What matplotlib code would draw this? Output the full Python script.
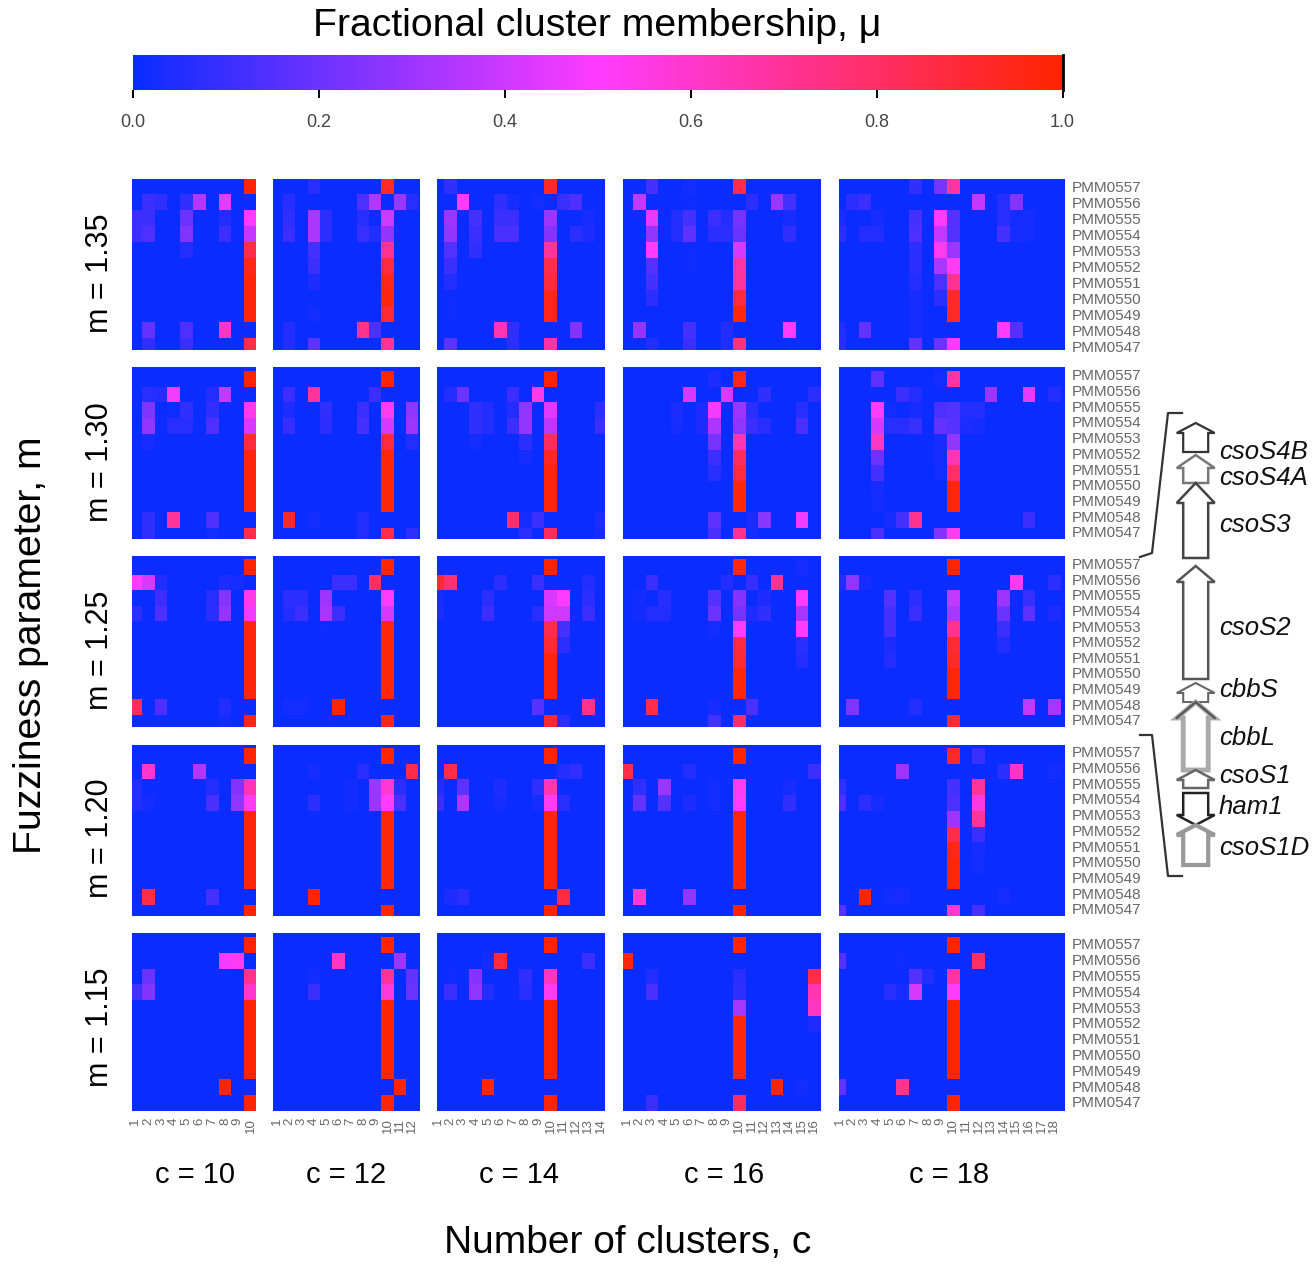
import numpy as np
import matplotlib
matplotlib.use("Agg")
import matplotlib.pyplot as plt
from matplotlib.colors import LinearSegmentedColormap
from matplotlib.patches import Polygon

plt.rcParams['font.family'] = ['Liberation Sans', 'DejaVu Sans']

W, H = 1316, 1265
genes_rows = ['PMM0557','PMM0556','PMM0555','PMM0554','PMM0553','PMM0552','PMM0551','PMM0550','PMM0549','PMM0548','PMM0547']
m_labels = ['m = 1.35','m = 1.30','m = 1.25','m = 1.20','m = 1.15']
c_values = [10,12,14,16,18]
cbar_ticks = [0.0,0.2,0.4,0.6,0.8,1.0]

# --- values: {cluster column: [membership of the 11 genes, top to bottom]}
m135_c10 = {0:[0,0,.1,.1,0,0,0,0,0,0,0], 1:[0,.1,.1,.14,0,0,0,0,0,.18,.08], 2:[0,.08,0,0,0,0,0,0,0,0,0],
            4:[0,.08,.2,.24,.05,0,0,0,0,.14,.1], 5:[0,.35,0,0,0,0,0,0,0,0,0], 7:[0,.45,.05,.1,0,0,0,0,0,.62,0],
            9:[1,0,.5,.38,.85,.95,.98,.98,.98,0,.85]}
m135_c12 = {1:[0,.06,.08,.1,0,0,0,0,0,.05,.05], 3:[.06,0,.33,.33,.12,.1,.04,0,.02,0,.17], 4:[0,0,.07,.07,0,0,0,0,0,0,0],
            7:[0,.14,.06,.09,0,0,0,0,0,.72,0], 8:[0,.34,0,.05,0,0,0,0,0,.14,0],
            9:[.92,0,.4,.28,.72,.88,.95,.97,.9,0,.7], 10:[0,.3,0,0,0,0,0,0,0,0,0], 11:[0,.06,0,0,0,0,0,0,0,0,0]}
m135_c14 = {1:[.08,0,.3,.28,.15,.1,.05,.01,.01,0,.17], 2:[0,.5,0,0,0,0,0,0,0,0,0], 3:[0,0,.12,.1,.08,0,0,0,0,0,0],
            5:[0,.08,.1,.13,0,0,0,0,0,.65,0], 6:[0,.03,.1,.13,0,0,0,0,0,.08,.07], 8:[0,.02,0,0,0,0,0,0,0,0,0],
            9:[.92,0,.3,.25,.7,.85,.88,.95,.95,0,.68], 10:[0,.1,0,0,0,0,0,0,0,0,0], 11:[0,.14,0,.07,0,0,0,0,0,.25,0],
            12:[0,0,.03,.04,0,0,0,0,0,0,0]}
m135_c16 = {1:[0,.38,0,0,0,0,0,0,0,.28,0], 2:[.12,0,.45,.28,.5,.15,.12,.07,0,0,.05], 4:[0,0,.05,.05,0,0,0,0,0,0,0],
            5:[.02,.01,.12,.17,.01,.01,0,0,0,.12,.1], 7:[0,0,.1,.07,0,0,0,0,0,0,0], 8:[0,0,.05,.07,0,0,0,0,0,.05,.05],
            9:[.85,0,.22,.2,.42,.68,.7,.88,.97,0,.75], 10:[0,.07,0,0,0,0,0,0,0,0,0], 12:[0,.3,0,0,0,0,0,0,0,0,0],
            13:[0,.12,.03,.08,0,0,0,0,0,.5,0]}
m135_c18 = {0:[0,0,.04,.07,0,0,0,0,0,.05,.06], 1:[0,.07,0,0,0,0,0,0,0,0,0], 2:[0,.1,0,.05,0,0,0,0,0,.18,0],
            3:[0,0,.03,.05,0,0,0,0,0,0,0], 6:[.08,0,.12,.14,.07,.07,.05,.03,.03,.03,.18],
            8:[.22,0,.5,.38,.53,.33,.14,.07,0,0,.2], 9:[.68,0,.15,.15,.3,.52,.72,.92,.92,0,.5],
            11:[0,.38,0,0,0,0,0,0,0,0,0], 13:[0,.06,.06,.12,0,0,0,0,0,.5,0], 14:[0,.25,.02,.03,0,0,0,0,0,.15,0],
            15:[0,0,.03,.02,0,0,0,0,0,0,0]}

m130_c10 = {1:[0,.06,.24,.28,.03,0,0,0,0,.08,.08], 2:[0,.05,0,0,0,0,0,0,0,0,0], 3:[0,.48,.01,.06,0,0,0,0,0,.7,0],
            4:[0,0,.08,.06,0,0,0,0,0,0,0], 6:[0,.05,.08,.14,0,0,0,0,0,.14,.02], 7:[0,.38,0,0,0,0,0,0,0,0,0],
            9:[1,0,.55,.42,.88,.97,.98,.98,.98,0,.85]}
m130_c12 = {1:[0,.1,.04,.09,0,0,0,0,0,.92,0], 3:[0,.7,0,0,0,0,0,0,0,.02,0], 4:[0,0,.08,.07,0,0,0,0,0,0,0],
            7:[0,0,.1,.12,0,0,0,0,0,.05,.05], 8:[0,.1,0,0,0,0,0,0,0,0,0], 9:[1,0,.52,.42,.88,.98,.98,.98,.98,0,.85],
            11:[0,0,.28,.3,.05,0,0,0,0,0,.08]}
m130_c14 = {1:[0,.05,0,0,0,0,0,0,0,0,0], 2:[0,.2,0,0,0,0,0,0,0,0,0], 3:[0,0,.08,.08,.02,0,0,0,0,0,0],
            4:[0,0,.05,.05,0,0,0,0,0,0,0], 6:[0,.1,.05,.1,0,0,0,0,0,.8,0], 7:[0,0,.28,.28,.07,.03,0,0,0,.03,.07],
            8:[0,.55,0,0,0,0,0,0,0,.1,0], 9:[1,0,.43,.36,.82,.93,.98,.98,.98,0,.82], 13:[0,0,.07,.1,0,0,0,0,0,.04,.03]}
m130_c16 = {4:[0,0,.04,.03,0,0,0,0,0,0,0], 5:[0,.42,0,0,0,0,0,0,0,0,0], 6:[0,0,.04,.04,0,0,0,0,0,0,0],
            7:[.04,0,.47,.33,.22,.1,.06,0,0,.17,.13], 8:[0,.42,0,0,0,0,0,0,0,0,0],
            9:[.95,0,.3,.27,.65,.82,.88,.98,.98,0,.72], 10:[0,0,.07,.1,0,0,0,0,0,.04,.03],
            11:[0,.08,0,.06,0,0,0,0,0,.26,0], 14:[0,0,.06,.13,0,0,0,0,0,.47,0], 15:[0,.07,0,0,0,0,0,0,0,0,0]}
m130_c18 = {3:[.17,0,.5,.42,.62,.2,.12,.03,.02,0,.13], 4:[0,0,.02,.06,0,0,0,0,0,.03,0], 5:[0,.1,0,.06,0,0,0,0,0,.12,0],
            6:[0,.05,.03,.09,0,0,0,0,0,.72,0], 8:[.03,0,.14,.18,.03,.03,.02,0,0,0,.25],
            9:[.68,0,.15,.16,.28,.65,.8,.97,.97,0,.52], 10:[0,0,.05,.04,0,0,0,0,0,0,0], 11:[0,0,.05,.03,0,0,0,0,0,0,0],
            12:[0,.3,0,0,0,0,0,0,0,0,0], 15:[0,.45,0,0,0,0,0,0,0,.1,0], 17:[0,.05,0,0,0,0,0,0,0,0,0]}

m125_c10 = {0:[0,.5,0,.07,0,0,0,0,0,.82,0], 1:[0,.42,0,0,0,0,0,0,0,0,0], 2:[0,.05,.1,.14,0,0,0,0,0,.14,.01],
            6:[0,0,.06,.07,0,0,0,0,0,0,0], 7:[0,.04,.25,.28,0,0,0,0,0,.05,.02], 8:[0,.03,0,0,0,0,0,0,0,0,0],
            9:[1,0,.55,.47,.97,.98,.98,.98,.98,0,.95]}
m125_c12 = {1:[0,0,.07,.05,0,0,0,0,0,.02,0], 2:[0,0,.07,.1,0,0,0,0,0,.02,0], 4:[0,0,.3,.32,.01,0,0,0,0,0,.01],
            5:[0,.1,0,.1,0,0,0,0,0,1,0], 6:[0,.1,0,0,0,0,0,0,0,0,0], 8:[0,.8,0,0,0,0,0,0,0,0,0],
            9:[1,0,.5,.42,.97,.98,.98,.98,.98,0,.95]}
m125_c14 = {0:[0,.9,.03,.04,0,0,0,0,0,0,0], 1:[0,.78,0,0,0,0,0,0,0,0,0], 4:[0,0,.07,.1,0,0,0,0,0,0,0],
            5:[0,.07,0,0,0,0,0,0,0,0,0], 8:[0,.1,0,.06,0,0,0,0,0,.16,0], 9:[1,0,.42,.4,.85,.9,.98,.98,.98,0,.9],
            10:[0,0,.5,.4,.12,.07,0,0,0,0,.07], 12:[0,.05,.07,.1,0,0,0,0,0,.72,0]}
m125_c16 = {1:[0,0,.02,.02,0,0,0,0,0,0,0], 2:[0,.1,0,.05,0,0,0,0,0,.85,0], 3:[0,0,.06,.05,0,0,0,0,0,0,0],
            7:[0,0,.15,.2,.02,0,0,0,0,.03,.12], 8:[0,.05,0,0,0,0,0,0,0,0,0], 9:[.97,0,.25,.22,.5,.88,.9,.98,.98,0,.8],
            10:[0,.09,0,.04,0,0,0,0,0,.13,0], 11:[0,0,.04,.08,0,0,0,0,0,0,0], 12:[0,.72,0,0,0,0,0,0,0,0,0],
            14:[.03,0,.5,.32,.5,.07,.05,0,0,0,0]}
m125_c18 = {0:[0,.05,0,0,0,0,0,0,0,0,0], 1:[0,.27,0,0,0,0,0,0,0,.24,0], 2:[0,.03,0,0,0,0,0,0,0,0,0],
            4:[0,0,.15,.12,.12,.04,.05,0,0,0,0], 6:[0,0,.07,.1,0,0,0,0,0,.05,0],
            9:[1,0,.38,.33,.72,.9,.92,.98,.98,0,.9], 13:[0,0,.3,.2,.1,.05,0,0,0,0,0], 14:[0,.52,0,0,0,0,0,0,0,0,0],
            15:[0,0,.09,.17,0,0,0,0,0,.38,0], 17:[0,.07,0,.04,0,0,0,0,0,.32,0]}

m120_c10 = {0:[0,0,.05,.05,0,0,0,0,0,0,0], 1:[0,.6,0,.03,0,0,0,0,0,.85,0], 5:[0,.34,0,0,0,0,0,0,0,0,0],
            6:[0,0,.05,.13,0,0,0,0,0,.12,0], 8:[0,0,.25,.28,0,0,0,0,0,0,0], 9:[1,0,.65,.52,.98,.98,.98,.98,.98,0,1]}
m120_c12 = {3:[0,.03,0,.07,0,0,0,0,0,1,0], 6:[0,0,.02,.02,0,0,0,0,0,0,0], 7:[0,.06,0,0,0,0,0,0,0,0,0],
            8:[0,0,.3,.3,0,0,0,0,0,0,0], 9:[1,0,.58,.5,.98,.98,.98,.98,.98,0,.98], 10:[0,0,.07,.13,0,0,0,0,0,0,0],
            11:[0,.85,0,0,0,0,0,0,0,0,0]}
m120_c14 = {0:[0,0,.05,.1,0,0,0,0,0,0,0], 1:[0,.85,0,0,0,0,0,0,0,.04,0], 2:[0,0,.17,.33,0,0,0,0,0,.07,0],
            5:[0,0,.04,.03,0,0,0,0,0,0,0], 8:[0,0,.08,.03,0,0,0,0,0,0,0], 9:[1,0,.65,.52,.98,.98,.98,.98,.98,0,1],
            10:[0,.05,0,.06,0,0,0,0,0,.87,0], 11:[0,.08,0,0,0,0,0,0,0,0,0]}
m120_c16 = {0:[0,.85,0,0,0,0,0,0,0,0,0], 1:[0,0,.08,.18,0,0,0,0,0,.58,0], 3:[0,0,.3,.15,0,0,0,0,0,0,0],
            5:[0,.05,0,.04,0,0,0,0,0,.28,0], 7:[0,0,.02,.02,0,0,0,0,0,0,0], 9:[1,0,.52,.5,.98,.98,.98,.98,.98,0,1],
            13:[0,0,.03,.08,0,0,0,0,0,0,0], 15:[0,.1,0,0,0,0,0,0,0,0,0]}
m120_c18 = {0:[0,0,.08,.14,0,0,0,0,0,0,.16], 2:[0,0,0,.07,0,0,0,0,0,1,0], 3:[0,0,0,.03,0,0,0,0,0,0,0],
            4:[0,0,0,0,0,0,0,0,0,.02,0], 5:[0,.3,0,0,0,0,0,0,0,.03,0],
            9:[.92,0,.12,.14,.3,.85,.95,.98,.98,0,.6], 11:[.1,0,.7,.57,.7,.1,.03,.02,0,0,.13],
            13:[0,.07,0,0,0,0,0,0,0,.03,0], 14:[0,.62,0,0,0,0,0,0,0,0,0], 17:[0,.02,0,0,0,0,0,0,0,0,0]}

m115_c10 = {0:[0,0,0,.12,0,0,0,0,0,0,0], 1:[0,0,.2,.25,0,0,0,0,0,0,0], 7:[0,.48,0,0,0,0,0,0,0,1,0],
            8:[0,.52,0,0,0,0,0,0,0,0,0], 9:[1,0,.72,.6,1,1,1,1,1,0,1]}
m115_c12 = {3:[0,0,.02,.1,0,0,0,0,0,0,0], 5:[0,.62,0,0,0,0,0,0,0,0,0], 9:[1,0,.7,.57,1,1,1,1,1,0,1],
            10:[0,.3,0,0,0,0,0,0,0,1,0], 11:[0,0,.18,.2,0,0,0,0,0,0,0]}
m115_c14 = {1:[0,0,.01,.1,0,0,0,0,0,0,0], 3:[0,0,.25,.27,0,0,0,0,0,0,0], 4:[0,.02,0,.05,0,0,0,0,0,1,0],
            5:[0,.88,0,0,0,0,0,0,0,0,0], 7:[0,0,.08,.06,0,0,0,0,0,0,0], 9:[1,0,.62,.52,1,1,1,1,1,0,1],
            12:[0,.1,0,0,0,0,0,0,0,0,0]}
m115_c16 = {0:[0,.97,0,0,0,0,0,0,0,0,0], 2:[0,0,.05,.13,0,0,0,0,0,0,.1], 9:[1,0,.07,.08,.32,.97,.97,.97,.97,0,.82],
            12:[0,0,0,0,0,0,0,0,0,1,0], 14:[0,0,0,0,0,0,0,0,0,.02,0], 15:[0,0,.85,.65,.62,.04,0,0,0,0,0]}
m115_c18 = {0:[0,.15,0,0,0,0,0,0,0,.18,0], 4:[0,0,0,.06,0,0,0,0,0,0,0], 5:[0,.01,0,.03,0,0,0,0,0,.72,0],
            6:[0,0,.15,.42,0,0,0,0,0,0,0], 7:[0,0,.05,0,0,0,0,0,0,0,0], 9:[1,0,.68,.5,1,1,1,1,1,0,1],
            11:[0,.8,0,0,0,0,0,0,0,0,0]}

panels = [[m135_c10,m135_c12,m135_c14,m135_c16,m135_c18],
          [m130_c10,m130_c12,m130_c14,m130_c16,m130_c18],
          [m125_c10,m125_c12,m125_c14,m125_c16,m125_c18],
          [m120_c10,m120_c12,m120_c14,m120_c16,m120_c18],
          [m115_c10,m115_c12,m115_c14,m115_c16,m115_c18]]

# gene-map annotation
gene_names = ['csoS4B','csoS4A','csoS3','csoS2','cbbS','cbbL','csoS1','ham1','csoS1D']
gene_tip   = [423,455,483,566,683,702,770,825,825]
gene_neck  = [433,468,503,582,693,718,780,815,835]
gene_base  = [452,483,558,679,702,770,788,793,865]
gene_edge  = ['#333333','#777777','#444444','#555555','#666666','#aaaaaa','#666666','#222222','#999999']
gene_lw    = [1.6,1.8,1.8,1.8,1.5,3.5,1.8,1.8,3]
gene_label_y = [452,478,525,628,690,738,776,807,848]

# --- layout (pixels)
col_x = [(132,256),(273,420),(437,605),(623,821),(839,1065)]
col_off = [-3,-2.3,-5.5,-2.5,-5.7]
col_w = [12.8,12.3,12.55,12.5,12.63]
row_y = [(179,350),(367,539),(556,727),(745,916),(933,1111)]
row_off = [-1,4,3,3,4]
row_h = [16,15.7,15.6,15.7,15.8]
label_shift = [0,-4,-3,-4,-1]
m_label_y = [273,462,650,838,1027]
c_label_x = [195,346,519,724,949]

cmap = LinearSegmentedColormap.from_list('bmr', ['#0a2cff','#ff3cff','#ff2500'])
BLUE = cmap(0.0)

def rect(x0,y0,x1,y1):
    return [x0/W, 1-y1/H, (x1-x0)/W, (y1-y0)/H]

fig = plt.figure(figsize=(W/100,H/100), dpi=100, facecolor='white')

for i,row in enumerate(panels):
    y0,y1 = row_y[i]
    for j,cols in enumerate(row):
        x0,x1 = col_x[j]
        c = c_values[j]
        Z = np.zeros((11,c))
        for k,v in cols.items():
            Z[:,k] = v
        ax = fig.add_axes(rect(x0,y0,x1,y1), facecolor=BLUE)
        ax.pcolormesh(np.arange(c+1), np.arange(12), Z, cmap=cmap, vmin=0, vmax=1, shading='flat', antialiased=False, linewidth=0)
        ax.set_xlim(-col_off[j]/col_w[j], (x1-x0-col_off[j])/col_w[j])
        ax.set_ylim((y1-y0-row_off[i])/row_h[i], -row_off[i]/row_h[i])
        for s in ax.spines.values():
            s.set_visible(False)
        ax.tick_params(length=0)
        if i == 4:
            ax.set_xticks(np.arange(c)+0.5)
            ax.set_xticklabels([str(n) for n in range(1,c+1)], rotation=90, fontsize=9.5, color='#666666', va='top')
            ax.tick_params(axis='x', pad=5)
        else:
            ax.set_xticks([])
        if j == 4:
            ax.yaxis.tick_right()
            ax.set_yticks(np.arange(11)+0.5+label_shift[i]/row_h[i])
            ax.set_yticklabels(genes_rows, fontsize=11, color='#666666')
            ax.tick_params(axis='y', pad=5, length=0)
        else:
            ax.set_yticks([])

# colour bar
cax = fig.add_axes(rect(132.5,55,1062.5,90))
cax.imshow(np.linspace(0,1,256)[None,:], aspect='auto', cmap=cmap, vmin=0, vmax=1, extent=(0,1,0,1))
for s in cax.spines.values():
    s.set_visible(False)
cax.set_yticks([])
cax.set_xticks(cbar_ticks)
cax.set_xticklabels(['%.1f'%t for t in cbar_ticks], fontsize=13, color='#444444')
cax.tick_params(axis='x', length=6, width=1.4, pad=11)
cax.axvline(1.0, color='black', lw=2, clip_on=False)

# overlay in pixel coordinates
ov = fig.add_axes([0,0,1,1], facecolor='none')
ov.set_xlim(0,W); ov.set_ylim(H,0); ov.axis('off')

ov.text(597, 26, 'Fractional cluster membership, μ', fontsize=28.2, ha='center', va='center')
ov.text(628, 1243, 'Number of clusters, c', fontsize=28, ha='center', va='center')
ov.text(31, 645, 'Fuzziness parameter, m', fontsize=28.2, ha='center', va='center', rotation=90)
for lbl,yc in zip(m_labels,m_label_y):
    ov.text(100, yc, lbl, fontsize=22, rotation=90, ha='center', va='center')
for c,xc in zip(c_values,c_label_x):
    ov.text(xc, 1175, 'c = %d'%c, fontsize=21, ha='center', va='center')

# gene arrows
XC, SH, HW = 1195.7, 12.5, 19
for n,t,nk,b,ec,lw,ly in zip(gene_names,gene_tip,gene_neck,gene_base,gene_edge,gene_lw,gene_label_y):
    pts = [(XC,t),(XC+HW,nk),(XC+SH,nk),(XC+SH,b),(XC-SH,b),(XC-SH,nk),(XC-HW,nk)]
    ov.add_patch(Polygon(pts, closed=True, facecolor='white', edgecolor=ec, linewidth=lw, joinstyle='miter'))
    if lw > 3:
        ov.plot([XC-HW,XC,XC+HW],[nk,t,nk], color='#555555', lw=1.6)
    ov.text(1219, ly, n, fontsize=18.5, style='italic', ha='left', va='center', color='#111111')

ov.plot([1182,1168,1152,1140],[413,413,553,557], color='#333333', lw=1.6)
ov.plot([1140,1152,1168,1182],[735,735,876,876], color='#333333', lw=1.6)

fig.savefig('out.png', dpi=100)
